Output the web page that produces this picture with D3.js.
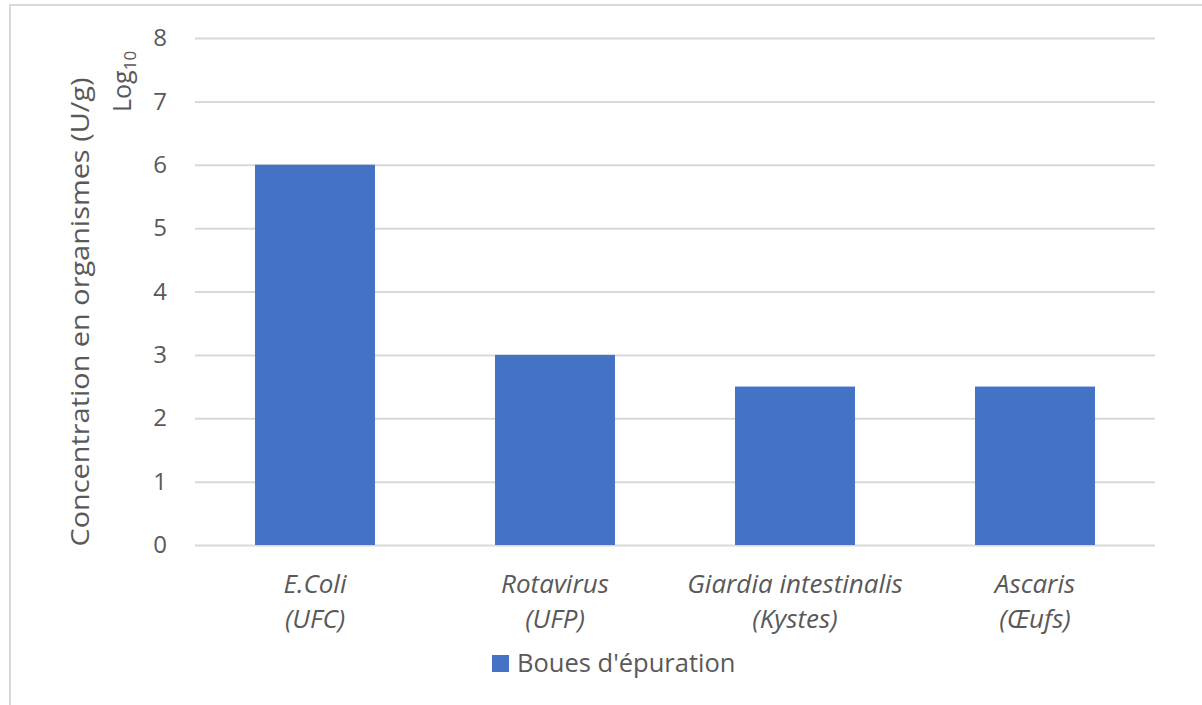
<!DOCTYPE html>
<html>
<head>
<meta charset="utf-8">
<script src="https://cdn.jsdelivr.net/npm/d3@7"></script>
<style>
  html, body { margin: 0; padding: 0; background: #fff; }
  svg { display: block; }
  text { font-family: "Open Sans", sans-serif; fill: #595959; }
</style>
</head>
<body>
<svg id="chart" width="1202" height="705"></svg>
<script>
const categoriesLine1 = ["E.Coli", "Rotavirus", "Giardia intestinalis", "Ascaris"];
const categoriesLine2 = ["(UFC)", "(UFP)", "(Kystes)", "(Œufs)"];
const values = [6, 3, 2.5, 2.5];
const yTicks = [0, 1, 2, 3, 4, 5, 6, 7, 8];
const seriesName = "Boues d'épuration";

const svg = d3.select("#chart");
const W = 1202, H = 705;
const plot = { left: 195, right: 1155, top: 38, bottom: 545 };

// chart frame
svg.append("path")
  .attr("d", `M10,${H} L10,5 L${W},5`)
  .attr("fill", "none").attr("stroke", "#D9D9D9").attr("stroke-width", 2);

const x = d3.scaleBand()
  .domain(d3.range(categoriesLine1.length))
  .range([plot.left, plot.right])
  .paddingInner(0.5).paddingOuter(0.25);

const y = d3.scaleLinear().domain([0, 8]).range([plot.bottom, plot.top]);

// gridlines + tick labels via axis
const yAxis = d3.axisLeft(y).tickValues(yTicks).tickSize(-(plot.right - plot.left)).tickPadding(28).tickFormat(d3.format("d"));
const gy = svg.append("g").attr("transform", `translate(${plot.left},0)`).call(yAxis);
gy.select(".domain").remove();
gy.selectAll(".tick line").attr("stroke", "#D9D9D9").attr("stroke-width", 2);
gy.selectAll(".tick text").style("font-size", "24px").attr("fill", "#595959")
  .style("font-family", "'Open Sans', sans-serif");

// bars
svg.append("g").selectAll("rect").data(values).join("rect")
  .attr("x", (d, i) => x(i))
  .attr("width", x.bandwidth())
  .attr("y", d => y(d))
  .attr("height", d => y(0) - y(d))
  .attr("fill", "#4472C4");

// x labels
const xl = svg.append("g");
categoriesLine1.forEach((c, i) => {
  const cx = x(i) + x.bandwidth() / 2;
  const t = xl.append("text").attr("text-anchor", "middle")
    .style("font-size", "26px").style("font-style", "italic");
  t.append("tspan").attr("x", cx).attr("y", 593).text(c);
  t.append("tspan").attr("x", cx).attr("y", 628).text(categoriesLine2[i]);
});

// y axis title
svg.append("text")
  .attr("transform", "translate(89,312) rotate(-90)")
  .attr("text-anchor", "middle")
  .attr("textLength", 469)
  .attr("lengthAdjust", "spacingAndGlyphs")
  .style("font-size", "26px")
  .text("Concentration en organismes (U/g)");
const lt = svg.append("text")
  .attr("transform", "translate(131,112) rotate(-90)")
  .attr("text-anchor", "start")
  .style("font-size", "25px");
lt.append("tspan").text("Log");
lt.append("tspan").attr("dy", 5).style("font-size", "17px").text("10");

// legend
svg.append("rect").attr("x", 492).attr("y", 655).attr("width", 17).attr("height", 17).attr("fill", "#4472C4");
svg.append("text").attr("x", 517).attr("y", 672).style("font-size", "25.5px").text(seriesName);
</script>
</body>
</html>
